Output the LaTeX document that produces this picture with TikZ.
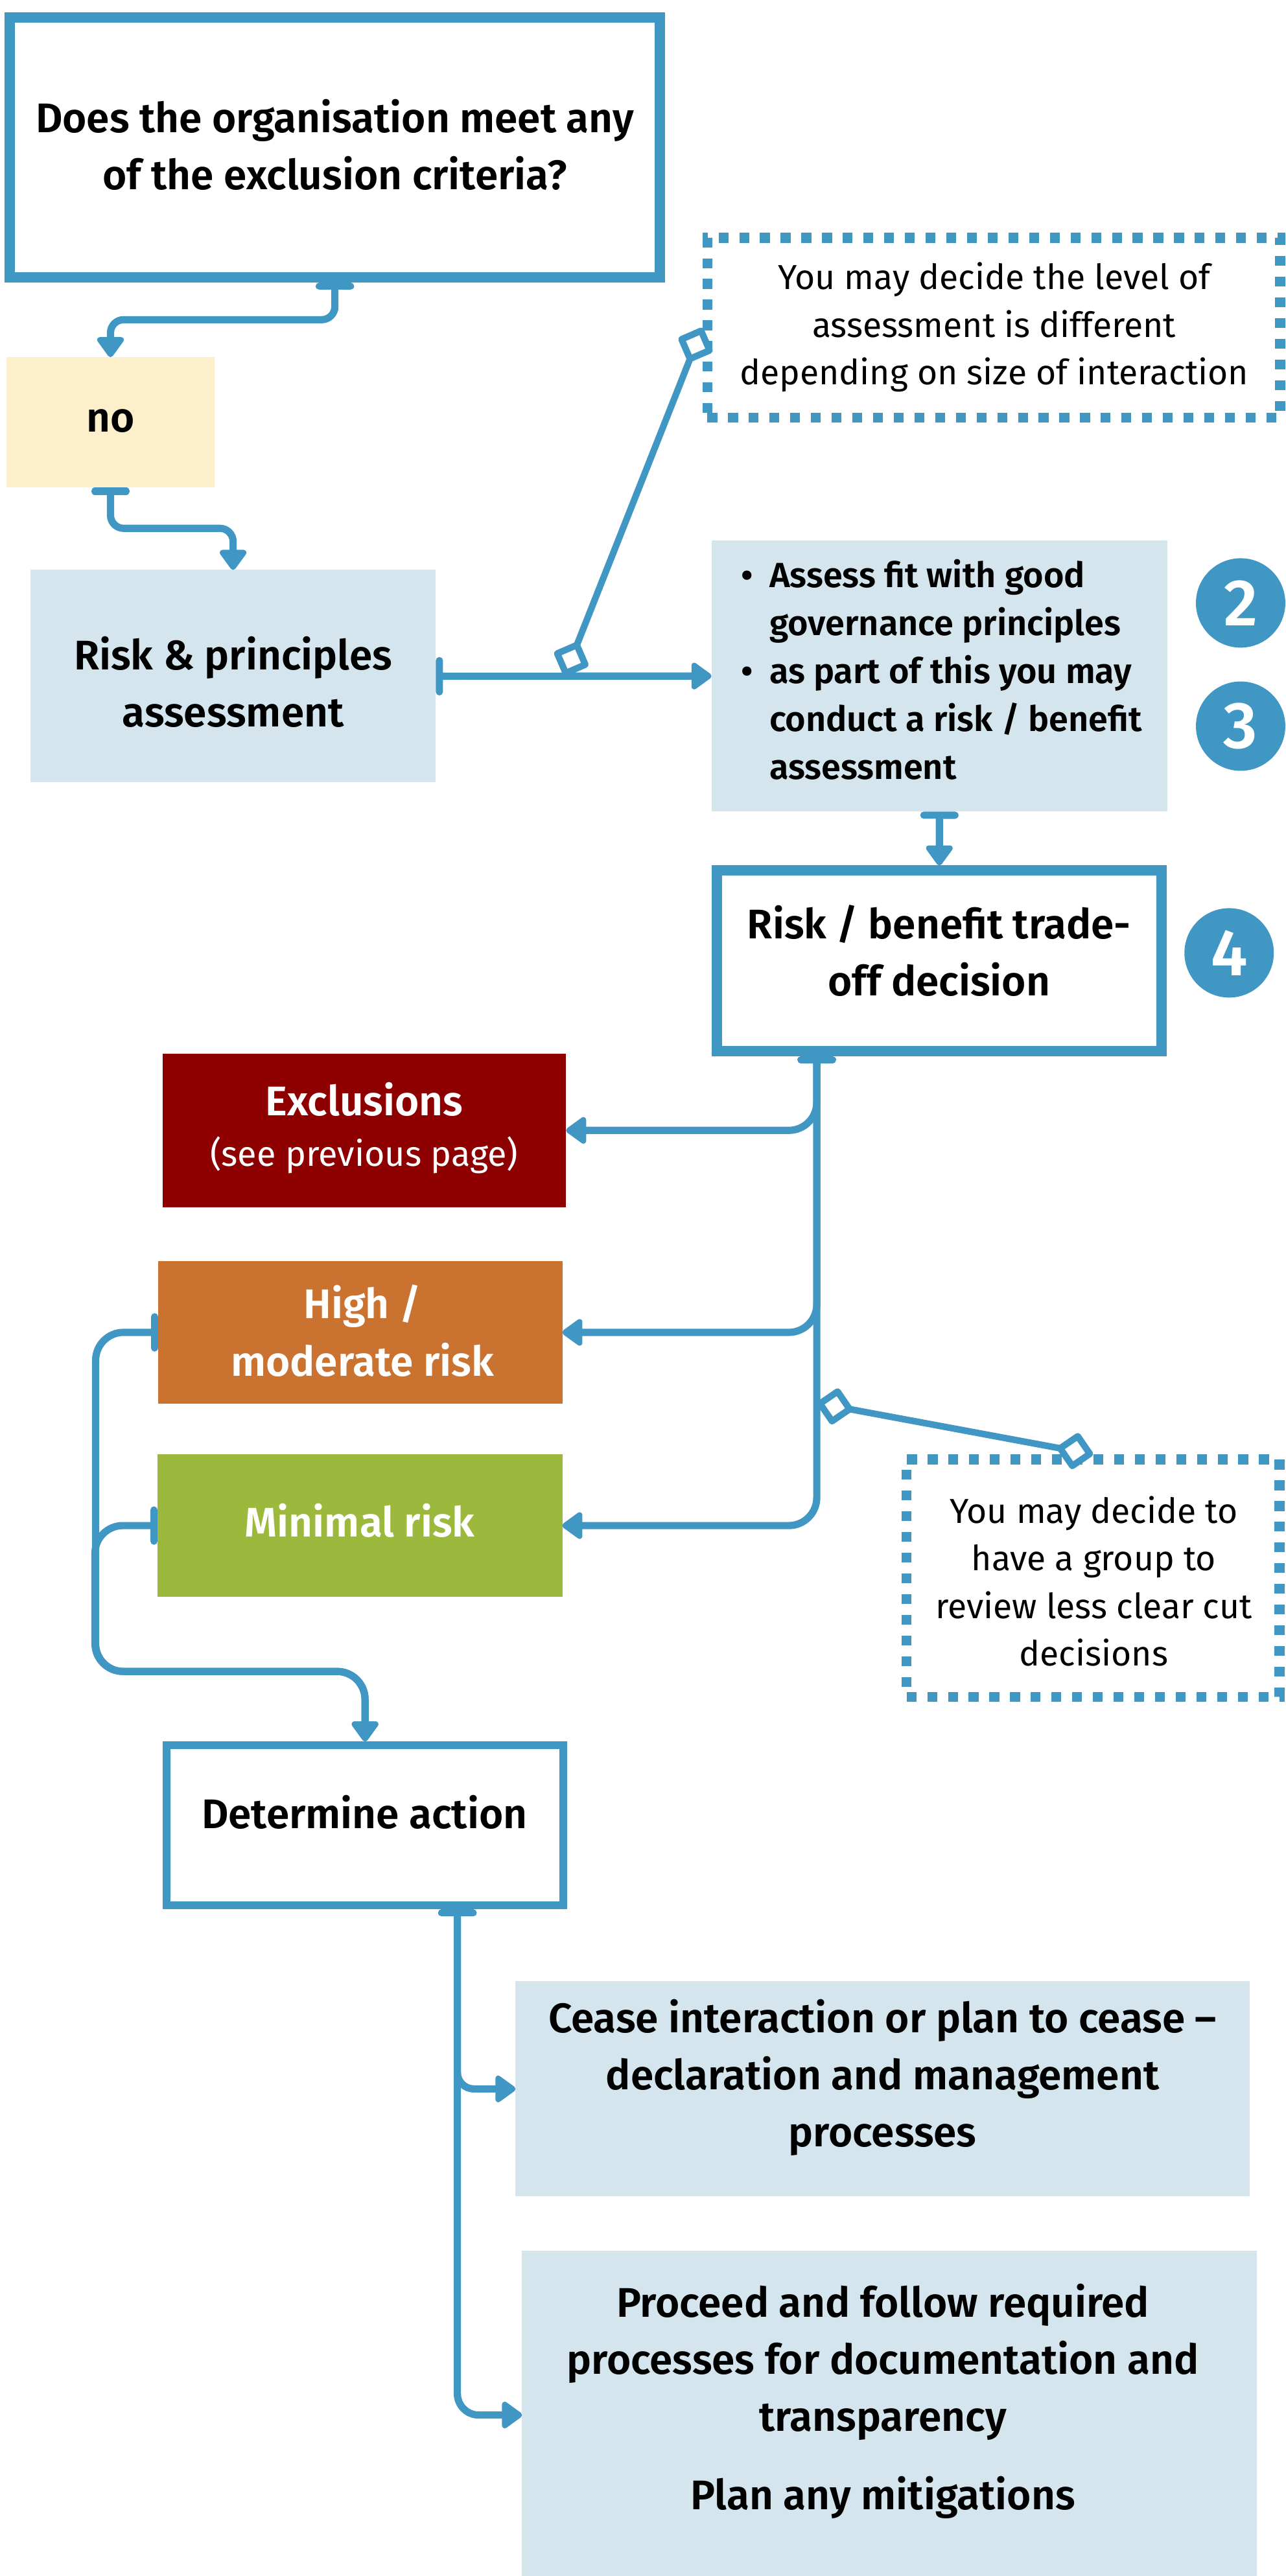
\documentclass[tikz,border=0pt]{standalone}
\usepackage{fontspec}
\setmainfont{Fira Sans}[BoldFont={Fira Sans SemiBold}]
\usetikzlibrary{arrows.meta,calc}
\definecolor{cblue}{HTML}{4197C4}
\definecolor{clight}{HTML}{D4E5EE}
\definecolor{cyellow}{HTML}{FCF0CC}
\definecolor{cred}{HTML}{8E0000}
\definecolor{corange}{HTML}{CA7330}
\definecolor{cgreen}{HTML}{9CB83D}
\newcommand{\mlines}[1]{\begin{tabular}[t]{@{}c@{}}#1\end{tabular}}
\tikzset{
  bfont/.style={font=\fontsize{25.2}{34.8}\selectfont\bfseries},
  rfont/.style={font=\fontsize{21.1}{29}\selectfont},
  txt/.style={inner sep=0pt, outer sep=0pt, anchor=base},
  thickbox/.style={draw=cblue, line width=6.3pt, fill=white, inner sep=0pt},
  fillbox/.style={inner sep=0pt, outer sep=0pt},
  dotbox/.style={draw=cblue, line width=6.2pt, dash pattern=on 6pt off 6.6pt, fill=white, inner sep=0pt},
  numc/.style={circle, fill=cblue, minimum size=54.4pt, inner sep=0pt, text=white, font=\fontsize{40}{40}\selectfont\bfseries},
  conn/.style={draw=cblue, line width=4.4pt, rounded corners=8pt},
  diag/.style={draw=cblue, line width=4pt},
  myarr/.tip={Triangle[width=18.5pt,length=13.5pt,round]},
  mybar/.tip={Bar[width=19pt,round]},
  mydia/.tip={Diamond[fill=white,length=24pt,width=24pt,round]}
}
\begin{document}
\begin{tikzpicture}[x=1pt, y=-1pt]
\useasboundingbox[fill=white] (0,0) rectangle (782.6,1568);

% boxes
\node[thickbox, minimum width=395.7pt, minimum height=158.1pt] (q) at (203.8,89.8) {};
\node[fillbox, fill=cyellow, minimum width=126.7pt, minimum height=79.4pt] (no) at (67.25,257.1) {};
\node[fillbox, fill=clight, minimum width=246.7pt, minimum height=129.4pt] (risk) at (141.85,411.6) {};
\node[fillbox, fill=clight, minimum width=277.4pt, minimum height=165pt] (bul) at (571.7,411.5) {};
\node[thickbox, minimum width=270.4pt, minimum height=109.8pt] (tr) at (571.65,584.85) {};
\node[dotbox, minimum width=348.6pt, minimum height=109.4pt] (d1) at (604.8,199.5) {};
\node[fillbox, fill=cred, minimum width=245.5pt, minimum height=93.5pt] (ex) at (221.75,688.05) {};
\node[fillbox, fill=corange, minimum width=245.9pt, minimum height=86.8pt] (hi) at (219.25,811) {};
\node[fillbox, fill=cgreen, minimum width=246.3pt, minimum height=86.8pt] (mi) at (219.05,928.6) {};
\node[dotbox, minimum width=227pt, minimum height=144.5pt] (d2) at (665.2,960.65) {};
\node[thickbox, line width=4.8pt, minimum width=241.5pt, minimum height=97.4pt] (det) at (222.15,1111.1) {};
\node[fillbox, fill=clight, minimum width=446.8pt, minimum height=131pt] (ce) at (537.1,1271.5) {};
\node[fillbox, fill=clight, minimum width=447.1pt, minimum height=200pt] (pr) at (541.25,1470) {};

% numbers
\node[numc] (c2) at (755,367) {2};
\node[numc] (c3) at (755,442) {3};
\node[numc] (c4) at (748,580) {4};

% texts
\node[txt, bfont] (qt) at (203.8,80.5) {\mlines{Does the organisation meet any\\of the exclusion criteria?}};
\node[txt, bfont] (not) at (67.3,262.8) {no};
\node[txt, bfont] (riskt) at (141.9,407.6) {\mlines{Risk \& principles\\assessment}};
\node[txt, anchor=base west, font=\fontsize{21.3}{29.2}\selectfont\bfseries] (bult) at (451,357.5)
  {\begin{tabular}[t]{@{}l@{\hspace{10pt}}l@{}}•&Assess fit with good\\&governance principles\\•&as part of this you may\\&conduct a risk / benefit\\&assessment\end{tabular}};
\node[txt, bfont] (trt) at (571.5,571.2) {\mlines{Risk / benefit trade-\\off decision}};
\node[txt, rfont] (d1t) at (605,176.3) {\mlines{You may decide the level of\\assessment is different\\depending on size of interaction}};
\node[txt, bfont, text=white] (ext) at (221.6,679) {\mlines{Exclusions\\[-3.8pt]{\mdseries\fontsize{21.3}{31}\selectfont (see previous page)}}};
\node[txt, bfont, text=white] (hit) at (220.5,802.7) {\mlines{High /\\moderate risk}};
\node[txt, bfont, text=white] (mit) at (219,935.6) {Minimal risk};
\node[txt, rfont] (d2t) at (665.6,927) {\mlines{You may decide to\\have a group to\\review less clear cut\\decisions}};
\node[txt, bfont] (dett) at (221.8,1113) {Determine action};
\node[txt, bfont] (cet) at (537.1,1237.2) {\mlines{Cease interaction or plan to cease –\\declaration and management\\processes}};
\node[txt, bfont] (prt) at (537.3,1410.4) {\mlines{Proceed and follow required\\processes for documentation and\\transparency\\[12.8pt]Plan any mitigations}};

% connectors
\draw[conn, {mybar}-{myarr}] (q.south) -- ++(0,22.6) -| (no.north);
\draw[conn, {mybar}-{myarr}] (no.south) -- ++(0,24.8) -| (risk.north);
\draw[conn, {mybar}-{myarr}] (risk.east) -- coordinate[pos=0.467] (m1) (bul.west);
\draw[diag, {mydia}-{mydia}] (m1) -- (d1.west);
\draw[conn, {mybar}-{myarr}] (bul.south) -- (tr.north);

\coordinate (tb) at ([xshift=-74.6pt]tr.south);
\draw[conn, rounded corners=17pt, {mybar}-{myarr}] (tb) |- (ex.east);
\draw[conn, rounded corners=17pt, {mybar}-{myarr}] (tb) |- (hi.east);
\draw[conn, rounded corners=17pt, {mybar}-{myarr}] (tb) |- (mi.east);
\coordinate (m2) at (tb |- 0,854);
\draw[diag, {mydia}-{mydia}] (m2) -- (d2.north);

\draw[conn, rounded corners=17pt, {mybar}-{myarr}] (hi.west) -- ++(-38.1,0) |- (det.north |- 0,1017.4) -- (det.north);
\draw[conn, rounded corners=17pt, {mybar}-{myarr}] (mi.west) -- ++(-38.1,0) |- (det.north |- 0,1017.4) -- (det.north);

\coordinate (db) at ([xshift=56.2pt]det.south);
\draw[conn, rounded corners=10pt, {mybar}-{myarr}] (db) |- (ce.west);
\draw[conn, rounded corners=13pt, {mybar}-{myarr}] (db) |- (pr.west);
\end{tikzpicture}
\end{document}
